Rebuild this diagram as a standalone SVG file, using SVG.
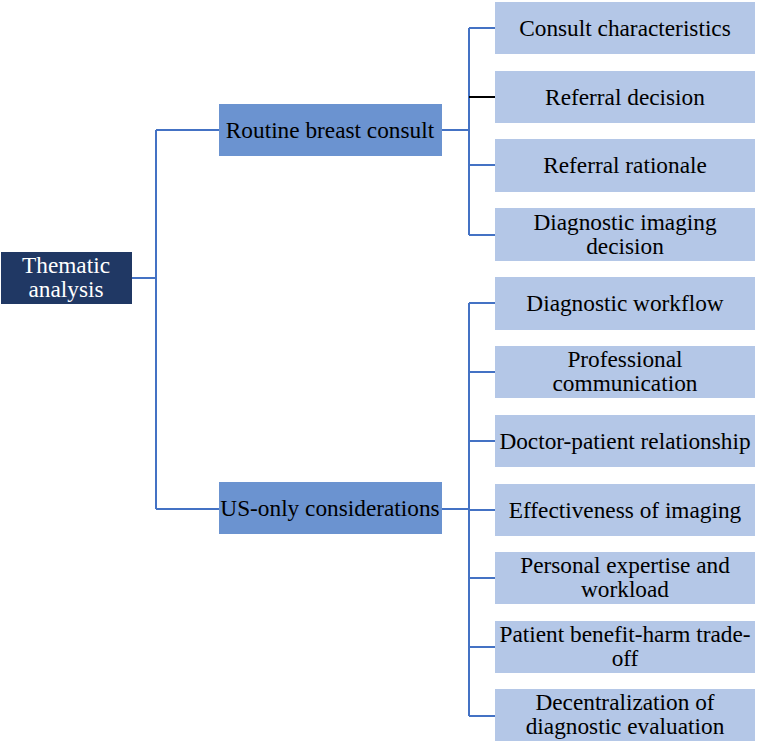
<svg xmlns="http://www.w3.org/2000/svg" width="757" height="743" viewBox="0 0 757 743">
<style>
text{font-family:'Liberation Serif','Times New Roman','DejaVu Serif',serif;font-size:23.3px;text-anchor:middle;fill:#000}
.root{fill:#203864}
.l2{fill:#6B93D0}
.leaf{fill:#B4C7E7}
text.w{fill:#fff}
.c{stroke:#4472C4;stroke-width:2;fill:none}
</style>
<rect width="757" height="743" fill="#fff"/>
<g id="connectors">
<path class="c" d="M132 278H156M156 130V509M156 130H219M156 509H219"/>
<path class="c" d="M442 130H469M469 28V235M469 28H495M469 165H495M469 235H495"/>
<path d="M469 97H495" stroke="#000" stroke-width="2"/>
<path class="c" d="M442 509H469M469 303V716M469 303H495M469 372H495M469 441H495M469 510H495M469 578H495M469 647H495M469 716H495"/>
</g>
<g font-family="Liberation Serif, Times New Roman, serif">
<g id="root"><rect class="root" x="1" y="252" width="131" height="52"/><text class="w" x="66" y="273">Thematic</text><text class="w" x="66" y="297">analysis</text></g>
<g id="routine"><rect class="l2" x="219" y="104" width="223" height="52"/><text x="330" y="138">Routine breast consult</text></g>
<g id="us-only"><rect class="l2" x="219" y="482" width="223" height="52"/><text x="330" y="516">US-only considerations</text></g>
<g id="consult-characteristics"><rect class="leaf" x="495" y="2" width="260" height="52"/><text x="625" y="36">Consult characteristics</text></g>
<g id="referral-decision"><rect class="leaf" x="495" y="71" width="260" height="52"/><text x="625" y="105">Referral decision</text></g>
<g id="referral-rationale"><rect class="leaf" x="495" y="139" width="260" height="53"/><text x="625" y="173">Referral rationale</text></g>
<g id="diagnostic-imaging-decision"><rect class="leaf" x="495" y="208" width="260" height="53"/><text x="625" y="230">Diagnostic imaging</text><text x="625" y="254">decision</text></g>
<g id="diagnostic-workflow"><rect class="leaf" x="495" y="277" width="260" height="53"/><text x="625" y="311">Diagnostic workflow</text></g>
<g id="professional-communication"><rect class="leaf" x="495" y="346" width="260" height="52"/><text x="625" y="367">Professional</text><text x="625" y="391">communication</text></g>
<g id="doctor-patient"><rect class="leaf" x="495" y="415" width="260" height="52"/><text x="625" y="449">Doctor-patient relationship</text></g>
<g id="effectiveness"><rect class="leaf" x="495" y="484" width="260" height="52"/><text x="625" y="518">Effectiveness of imaging</text></g>
<g id="personal-expertise"><rect class="leaf" x="495" y="552" width="260" height="52"/><text x="625" y="573">Personal expertise and</text><text x="625" y="597">workload</text></g>
<g id="benefit-harm"><rect class="leaf" x="495" y="621" width="260" height="52"/><text x="625" y="642">Patient benefit-harm trade-</text><text x="625" y="666">off</text></g>
<g id="decentralization"><rect class="leaf" x="495" y="689" width="260" height="52"/><text x="625" y="710">Decentralization of</text><text x="625" y="734">diagnostic evaluation</text></g>
</g>
</svg>
